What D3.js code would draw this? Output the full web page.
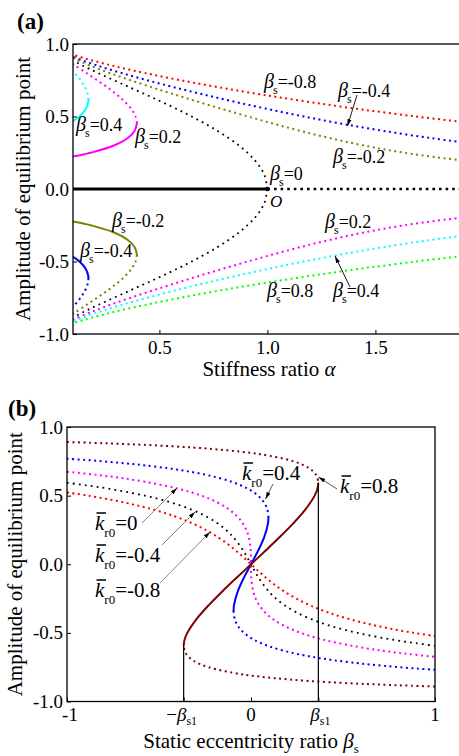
<!DOCTYPE html>
<html><head><meta charset="utf-8">
<script src="https://cdn.jsdelivr.net/npm/d3@7"></script>
<style>
body{margin:0;background:#fff}
svg{display:block}
text{font-family:"Liberation Serif","Times New Roman",serif;fill:#000}
</style>
</head><body>
<svg id="c" width="459" height="756"></svg>
<script>
// ---------------- Panel (a): amplitude vs stiffness ratio alpha ----------------
const alphaTicks = [0.5, 1.0, 1.5];
const ampTicks = [-1.0, -0.5, 0.0, 0.5, 1.0];

// beta_s = 0 (black)
const a0_alpha = [1, 0.985, 0.9406, 0.8681, 0.7699, 0.6495, 0.512, 0.3642, 0.216, 0.1462, 0.0997];
const a0_ampUp = [0, 0.1, 0.2, 0.3, 0.4, 0.5, 0.6, 0.7, 0.8, 0.85, 0.886];
const a0_ampDn = [0, -0.1, -0.2, -0.3, -0.4, -0.5, -0.6, -0.7, -0.8, -0.85, -0.886];
const a0_trivUnst_alpha = [0.1, 1.0];
const a0_trivStab_alpha = [1.0, 1.9];
const a0_triv_amp = [0, 0];

// beta_s = +0.2 (magenta) / -0.2 (olive)
const b02_unst_alpha = [0.1, 0.1202, 0.1525, 0.1815, 0.2894, 0.3523, 0.3849, 0.3957, 0.396];
const b02_unst_amp = [0.2243, 0.23, 0.24, 0.25, 0.3, 0.35, 0.4, 0.45, 0.455];
const b02_up_alpha = [0.396, 0.3897, 0.3707, 0.3413, 0.3038, 0.2601, 0.2122, 0.162, 0.1118, 0.1];
const b02_up_amp = [0.455, 0.5, 0.55, 0.6, 0.65, 0.7, 0.75, 0.8, 0.85, 0.862];
const b02_lo_alpha = [1.9, 1.6339, 1.4468, 1.2917, 1.1548, 1.0287, 0.9093, 0.7944, 0.6827, 0.5739, 0.4683, 0.3666, 0.27, 0.1806, 0.1012];
const b02_lo_amp = [-0.197, -0.25, -0.3, -0.35, -0.4, -0.45, -0.5, -0.55, -0.6, -0.65, -0.7, -0.75, -0.8, -0.85, -0.9];
const bm02_unst_amp = [-0.2243, -0.23, -0.24, -0.25, -0.3, -0.35, -0.4, -0.45, -0.455];
const bm02_up_amp = [-0.455, -0.5, -0.55, -0.6, -0.65, -0.7, -0.75, -0.8, -0.85, -0.862];
const bm02_lo_amp = [0.197, 0.25, 0.3, 0.35, 0.4, 0.45, 0.5, 0.55, 0.6, 0.65, 0.7, 0.75, 0.8, 0.85, 0.9];

// beta_s = +0.4 (cyan) / -0.4 (blue)
const b04_unst_alpha = [0.1003, 0.1299, 0.1589, 0.1707, 0.1715];
const b04_unst_amp = [0.468, 0.5, 0.55, 0.6, 0.615];
const b04_up_alpha = [0.1715, 0.1688, 0.1561, 0.135, 0.108, 0.1];
const b04_up_amp = [0.615, 0.65, 0.7, 0.75, 0.8, 0.814];
const b04_lo_alpha = [1.9, 1.7614, 1.5397, 1.3453, 1.1691, 1.0062, 0.8533, 0.7089, 0.5723, 0.4437, 0.324, 0.215, 0.1196, 0.1];
const b04_lo_amp = [-0.322, -0.35, -0.4, -0.45, -0.5, -0.55, -0.6, -0.65, -0.7, -0.75, -0.8, -0.85, -0.9, -0.912];
const bm04_unst_amp = [-0.468, -0.5, -0.55, -0.6, -0.615];
const bm04_up_amp = [-0.615, -0.65, -0.7, -0.75, -0.8, -0.814];
const bm04_lo_amp = [0.322, 0.35, 0.4, 0.45, 0.5, 0.55, 0.6, 0.65, 0.7, 0.75, 0.8, 0.85, 0.9, 0.912];

// beta_s = +0.8 (green) / -0.8 (red)
const b08_lo_alpha = [1.9, 1.6888, 1.4299, 1.1947, 0.979, 0.7805, 0.5981, 0.432, 0.2838, 0.1564, 0.1];
const b08_lo_amp = [-0.463, -0.5, -0.55, -0.6, -0.65, -0.7, -0.75, -0.8, -0.85, -0.9, -0.926];
const bm08_lo_amp = [0.463, 0.5, 0.55, 0.6, 0.65, 0.7, 0.75, 0.8, 0.85, 0.9, 0.926];

// ---------------- Panel (b): amplitude vs static eccentricity ratio ----------------
const betaS1 = 0.366;
const turnAmp08 = 0.59;
// k_r0 = 0.8 (dark red)
const k08_unst_beta = [-0.3658, -0.3612, -0.346, -0.2961, -0.2309, -0.1575, -0.0797, 0, 0.0797, 0.1575, 0.2309, 0.2961, 0.346, 0.3612, 0.3658];
const k08_unst_amp = [-0.59, -0.55, -0.5, -0.4, -0.3, -0.2, -0.1, 0, 0.1, 0.2, 0.3, 0.4, 0.5, 0.55, 0.59];
const k08_up_beta = [-1, -0.8687, -0.763, -0.6673, -0.5817, -0.4344, -0.313, -0.2117, -0.1267, -0.0547, 0.0067, 0.0593, 0.2317, 0.3156, 0.3538, 0.3656, 0.3658];
const k08_up_amp = [0.8905, 0.885, 0.88, 0.875, 0.87, 0.86, 0.85, 0.84, 0.83, 0.82, 0.81, 0.8, 0.75, 0.7, 0.65, 0.6, 0.59];
const k08_lo_beta = [1, 0.8687, 0.763, 0.6673, 0.5817, 0.4344, 0.313, 0.2117, 0.1267, 0.0547, -0.0067, -0.0593, -0.2317, -0.3156, -0.3538, -0.3656, -0.3658];
const k08_lo_amp = [-0.8905, -0.885, -0.88, -0.875, -0.87, -0.86, -0.85, -0.84, -0.83, -0.82, -0.81, -0.8, -0.75, -0.7, -0.65, -0.6, -0.59];
// k_r0 = 0.4 (blue)
const k04_unst_beta = [-0.0947, -0.0926, -0.0724, -0.0391, 0, 0.0391, 0.0724, 0.0926, 0.0947];
const k04_unst_amp = [-0.34, -0.3, -0.2, -0.1, 0, 0.1, 0.2, 0.3, 0.34];
const k04_up_beta = [0.0947, 0.0945, 0.0883, 0.0709, 0.0381, -0.0165, -0.1031, -0.2387, -0.3551, -0.4532, -0.5726, -0.642, -0.7191, -0.805, -0.901, -1];
const k04_up_amp = [0.34, 0.35, 0.4, 0.45, 0.5, 0.55, 0.6, 0.65, 0.68, 0.7, 0.72, 0.73, 0.74, 0.75, 0.76, 0.769];
const k04_lo_beta = [-0.0947, -0.0945, -0.0883, -0.0709, -0.0381, 0.0165, 0.1031, 0.2387, 0.3551, 0.4532, 0.5726, 0.642, 0.7191, 0.805, 0.901, 1];
const k04_lo_amp = [-0.34, -0.35, -0.4, -0.45, -0.5, -0.55, -0.6, -0.65, -0.68, -0.7, -0.72, -0.73, -0.74, -0.75, -0.76, -0.769];
// k_r0 = 0 (magenta)
const k0_beta = [-1, -0.9677, -0.8311, -0.7151, -0.5719, -0.3942, -0.2698, -0.1819, -0.1196, -0.0758, -0.0456, -0.0254, -0.0126, -0.0015, 0, 0.0015, 0.0126, 0.0254, 0.0456, 0.0758, 0.1196, 0.1819, 0.2698, 0.3942, 0.5719, 0.7151, 0.8311, 0.9677, 1];
const k0_amp = [0.674, 0.67, 0.65, 0.63, 0.6, 0.55, 0.5, 0.45, 0.4, 0.35, 0.3, 0.25, 0.2, 0.1, 0, -0.1, -0.2, -0.25, -0.3, -0.35, -0.4, -0.45, -0.5, -0.55, -0.6, -0.63, -0.65, -0.67, -0.674];
// k_r0 = -0.4 (black)
const km04_beta = [-1, -0.8949, -0.7718, -0.5777, -0.4346, -0.3274, -0.2461, -0.1838, -0.1356, -0.0977, -0.0421, 0, 0.0421, 0.0977, 0.1356, 0.1838, 0.2461, 0.3274, 0.4346, 0.5777, 0.7718, 0.8949, 1];
const km04_amp = [0.594, 0.575, 0.55, 0.5, 0.45, 0.4, 0.35, 0.3, 0.25, 0.2, 0.1, 0, -0.1, -0.2, -0.25, -0.3, -0.35, -0.4, -0.45, -0.5, -0.55, -0.575, -0.594];
// k_r0 = -0.8 (red)
const km08_beta = [-1, -0.8857, -0.6873, -0.5352, -0.4164, -0.3221, -0.2457, -0.1827, -0.1294, -0.0827, -0.0403, 0, 0.0403, 0.0827, 0.1294, 0.1827, 0.2457, 0.3221, 0.4164, 0.5352, 0.6873, 0.8857, 1];
const km08_amp = [0.523, 0.5, 0.45, 0.4, 0.35, 0.3, 0.25, 0.2, 0.15, 0.1, 0.05, 0, -0.05, -0.1, -0.15, -0.2, -0.25, -0.3, -0.35, -0.4, -0.45, -0.5, -0.523];

const zip = (xs, ys) => xs.map((v, i) => [v, ys[i]]);

// series tables built from the arrays
const DOT = "dot", SOL = "solid";
const seriesA = [
  {c:"#ff0000", s:DOT, d:zip(b08_lo_alpha, bm08_lo_amp)},
  {c:"#0000ff", s:DOT, d:zip(b04_lo_alpha, bm04_lo_amp)},
  {c:"#808000", s:DOT, d:zip(b02_lo_alpha, bm02_lo_amp)},
  {c:"#ff00ff", s:DOT, d:zip(b02_lo_alpha, b02_lo_amp)},
  {c:"#00ffff", s:DOT, d:zip(b04_lo_alpha, b04_lo_amp)},
  {c:"#00ff00", s:DOT, d:zip(b08_lo_alpha, b08_lo_amp)},
  {c:"#000000", s:"bdot", d:zip(a0_alpha, a0_ampUp)},
  {c:"#000000", s:"bdot", d:zip(a0_alpha, a0_ampDn)},
  {c:"#ff00ff", s:DOT, d:zip(b02_up_alpha, b02_up_amp)},
  {c:"#ff00ff", s:SOL, d:zip(b02_unst_alpha, b02_unst_amp)},
  {c:"#808000", s:DOT, d:zip(b02_up_alpha, bm02_up_amp)},
  {c:"#808000", s:SOL, d:zip(b02_unst_alpha, bm02_unst_amp)},
  {c:"#00ffff", s:DOT, d:zip(b04_up_alpha, b04_up_amp)},
  {c:"#00ffff", s:SOL, d:zip(b04_unst_alpha, b04_unst_amp)},
  {c:"#0000ff", s:DOT, d:zip(b04_up_alpha, bm04_up_amp)},
  {c:"#0000ff", s:SOL, d:zip(b04_unst_alpha, bm04_unst_amp)},
  {c:"#000000", s:"thick", d:zip(a0_trivUnst_alpha, a0_triv_amp)},
  {c:"#000000", s:"tdot", d:zip(a0_trivStab_alpha, a0_triv_amp)}
];
const seriesB = [
  {c:"#800000", s:DOT, d:zip(k08_up_beta, k08_up_amp)},
  {c:"#800000", s:DOT, d:zip(k08_lo_beta, k08_lo_amp)},
  {c:"#0000ff", s:DOT, d:zip(k04_up_beta, k04_up_amp)},
  {c:"#0000ff", s:DOT, d:zip(k04_lo_beta, k04_lo_amp)},
  {c:"#ff00ff", s:DOT, d:zip(k0_beta, k0_amp)},
  {c:"#000000", s:"bdot", d:zip(km04_beta, km04_amp)},
  {c:"#ff0000", s:DOT, d:zip(km08_beta, km08_amp)},
  {c:"#0000ff", s:SOL, d:zip(k04_unst_beta, k04_unst_amp)},
  {c:"#800000", s:SOL, d:zip(k08_unst_beta, k08_unst_amp)}
];

const styles = {
  dot:   {w:2,   dash:"2,3.5", cap:"butt"},
  bdot:  {w:1.8, dash:"1.8,4.2", cap:"butt"},
  solid: {w:2,   dash:null, cap:"round"},
  thick: {w:3,   dash:null, cap:"butt"},
  tdot:  {w:2.6, dash:"2.6,4", cap:"butt"}
};

const svg = d3.select("#c");
const defs = svg.append("defs");
defs.append("marker").attr("id","arr").attr("viewBox","0 0 10 10")
  .attr("refX",10).attr("refY",5).attr("markerWidth",7).attr("markerHeight",7)
  .attr("markerUnits","userSpaceOnUse").attr("orient","auto")
  .append("path").attr("d","M0,2L10,5L0,8Z").attr("fill","#000");

const TICKF = 19, TITLEF = 21;

function drawPanel(xs, ys, series, clipId) {
  const [x0, x1] = xs.range(), [y0, y1] = ys.range();
  defs.append("clipPath").attr("id", clipId).append("rect")
    .attr("x", x0).attr("y", y1).attr("width", x1 - x0).attr("height", y0 - y1);
  const g = svg.append("g").attr("clip-path", `url(#${clipId})`);
  const line = d3.line().x(d => xs(d[0])).y(d => ys(d[1])).curve(d3.curveCatmullRom.alpha(0.5));
  series.forEach(s => {
    const st = styles[s.s];
    g.append("path").attr("d", line(s.d)).attr("fill","none").attr("stroke", s.c)
      .attr("stroke-width", st.w).attr("stroke-dasharray", st.dash).attr("stroke-linecap", st.cap);
  });
  return g;
}

function styleAxis(g) {
  g.select(".domain").remove();
  g.selectAll(".tick line").attr("stroke","#000").attr("stroke-width",1);
  g.selectAll(".tick text").attr("font-size", TICKF).attr("font-family", '"Liberation Serif", serif').attr("fill","#000");
  g.attr("font-family", null).attr("font-size", null);
}

// ---------- Panel A ----------
const xA = d3.scaleLinear().domain([0.1, 1.9]).range([73, 461.8]);
const yA = d3.scaleLinear().domain([-1, 1]).range([334, 44]);
drawPanel(xA, yA, seriesA, "clipA");
svg.append("circle").attr("cx", xA(1)).attr("cy", yA(0)).attr("r", 2.3).attr("fill","#000");

svg.append("g").attr("transform", `translate(0,${yA.range()[0]})`)
  .call(d3.axisBottom(xA).tickValues(alphaTicks).tickFormat(d => d.toFixed(1)).tickSize(-4).tickPadding(7))
  .call(styleAxis);
svg.append("g").attr("transform", `translate(${xA.range()[0]},0)`)
  .call(d3.axisLeft(yA).tickValues(ampTicks).tickFormat(d => d.toFixed(1)).tickSize(-4).tickPadding(4))
  .call(styleAxis);
svg.append("rect").attr("x", xA.range()[0]).attr("y", yA.range()[1])
  .attr("width", xA.range()[1] - xA.range()[0]).attr("height", yA.range()[0] - yA.range()[1])
  .attr("fill","none").attr("stroke","#000").attr("stroke-width",1.3);

// ---------- Panel B ----------
const xB = d3.scaleLinear().domain([-1, 1]).range([67, 435]);
const yB = d3.scaleLinear().domain([-1, 1]).range([701.5, 427]);
drawPanel(xB, yB, seriesB, "clipB");
// vertical lines at +/- beta_s1
[[-betaS1, -turnAmp08], [betaS1, turnAmp08]].forEach(([b, a]) => {
  svg.append("line").attr("x1", xB(b)).attr("x2", xB(b)).attr("y1", yB(a)).attr("y2", yB(-1))
    .attr("stroke","#000").attr("stroke-width",1.2);
});
svg.append("g").attr("transform", `translate(${xB.range()[0]},0)`)
  .call(d3.axisLeft(yB).tickValues(ampTicks).tickFormat(d => d.toFixed(1)).tickSize(-4).tickPadding(4))
  .call(styleAxis);
const bTicks = [-1, -betaS1, 0, betaS1, 1];
svg.append("g").attr("transform", `translate(0,${yB.range()[0]})`)
  .call(d3.axisBottom(xB).tickValues(bTicks).tickFormat("").tickSize(-4))
  .call(styleAxis);
svg.append("rect").attr("x", xB.range()[0]).attr("y", yB.range()[1])
  .attr("width", xB.range()[1] - xB.range()[0]).attr("height", yB.range()[0] - yB.range()[1])
  .attr("fill","none").attr("stroke","#000").attr("stroke-width",1.3);
// custom x tick labels for panel b
const tyB = yB.range()[0] + 19;
svg.append("text").attr("x", xB(-1) + 3).attr("y", tyB).attr("text-anchor","middle").attr("font-size",TICKF).text("-1");
svg.append("text").attr("x", xB(0)).attr("y", tyB).attr("text-anchor","middle").attr("font-size",TICKF).text("0");
svg.append("text").attr("x", xB(1)).attr("y", tyB).attr("text-anchor","middle").attr("font-size",TICKF).text("1");
{
  const t = svg.append("text").attr("x", xB(-betaS1) - 2).attr("y", tyB).attr("text-anchor","middle").attr("font-size",TICKF);
  t.append("tspan").text("\u2212");
  t.append("tspan").attr("font-style","italic").text("\u03b2");
  t.append("tspan").attr("font-size",12).attr("dy",4).text("s1");
  const t2 = svg.append("text").attr("x", xB(betaS1) + 2).attr("y", tyB).attr("text-anchor","middle").attr("font-size",TICKF);
  t2.append("tspan").attr("font-style","italic").text("\u03b2");
  t2.append("tspan").attr("font-size",12).attr("dy",4).text("s1");
}

// ---------- Titles ----------
svg.append("text").attr("x",17).attr("y",29).attr("font-size",23).attr("font-weight","bold").text("(a)");
svg.append("text").attr("x",8).attr("y",416).attr("font-size",23).attr("font-weight","bold").text("(b)");
{
  const t = svg.append("text").attr("x", 269).attr("y", 376).attr("text-anchor","middle").attr("font-size",TITLEF);
  t.append("tspan").text("Stiffness ratio ");
  t.append("tspan").attr("font-style","italic").text("\u03b1");
}
svg.append("text").attr("transform",`translate(30,${(yA.range()[0]+yA.range()[1])/2}) rotate(-90)`)
  .attr("text-anchor","middle").attr("font-size",TITLEF).text("Amplitude of equilibrium point");
svg.append("text").attr("transform",`translate(22,${(yB.range()[0]+yB.range()[1])/2}) rotate(-90)`)
  .attr("text-anchor","middle").attr("font-size",TITLEF).text("Amplitude of equilibrium point");
{
  const t = svg.append("text").attr("x", 251).attr("y", 748).attr("text-anchor","middle").attr("font-size",TITLEF);
  t.append("tspan").text("Static eccentricity ratio ");
  t.append("tspan").attr("font-style","italic").text("\u03b2");
  t.append("tspan").attr("font-size",13).attr("dy",5).text("s");
}

// ---------- Annotations ----------
function betaLabel(x, y, val) {
  const t = svg.append("text").attr("x", x).attr("y", y).attr("font-size", 18);
  t.append("tspan").attr("font-style","italic").attr("font-size",20).text("\u03b2");
  t.append("tspan").attr("font-size",12).attr("dy",6).attr("dx",-1).text("s");
  t.append("tspan").attr("dy",-6).text("=" + val);
}
function kLabel(x, y, val) {
  const t = svg.append("text").attr("x", x).attr("y", y).attr("font-size", 21);
  t.append("tspan").attr("font-style","italic").text("k");
  t.append("tspan").attr("font-size",13).attr("dy",7).text("r0");
  t.append("tspan").attr("dy",-7).text("=" + val);
  svg.append("line").attr("x1", x + 1.5).attr("x2", x + 11).attr("y1", y - 17).attr("y2", y - 17)
    .attr("stroke","#000").attr("stroke-width",1.5);
}
function arrow(x1, y1, x2, y2, col) {
  svg.append("line").attr("x1",x1).attr("y1",y1).attr("x2",x2).attr("y2",y2)
    .attr("stroke", col || "#000").attr("stroke-width",0.9).attr("marker-end","url(#arr)");
}

betaLabel(264, 88, "-0.8");
betaLabel(338, 97, "-0.4");
arrow(357, 95, 347.5, 126);
betaLabel(333, 163, "-0.2");
betaLabel(270, 180, "0");
svg.append("text").attr("x", 270).attr("y", 207).attr("font-size",17).attr("font-style","italic").text("O");
betaLabel(76, 131, "0.4");
betaLabel(135, 143, "0.2");
betaLabel(112, 227, "-0.2");
betaLabel(80, 257, "-0.4");
betaLabel(325, 228, "0.2");
betaLabel(267, 297, "0.8");
betaLabel(333, 297, "0.4");
arrow(350, 287, 335, 256);

kLabel(242, 480, "0.4");
arrow(273, 484, 265.5, 499, "#444");
kLabel(340, 493, "0.8");
arrow(337, 489, 318.5, 477, "#444");
kLabel(95, 530, "0");
arrow(142, 523, 177, 488, "#777");
kLabel(95, 562, "-0.4");
arrow(162, 545, 195, 512, "#777");
kLabel(95, 597, "-0.8");
arrow(160, 583, 210, 532, "#777");
</script>
</body></html>
